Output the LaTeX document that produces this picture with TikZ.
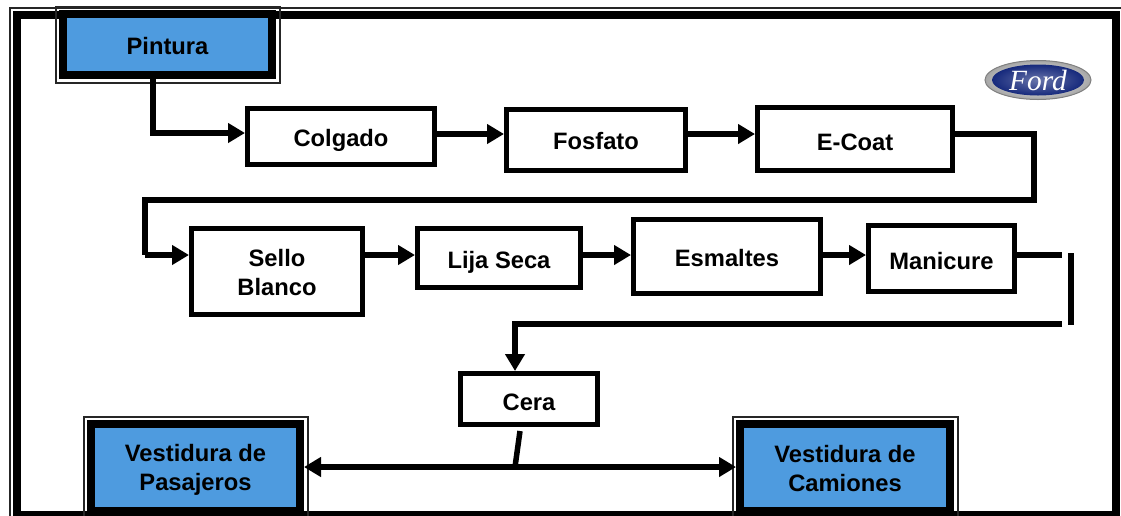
\documentclass[tikz,border=0pt]{standalone}
\usepackage{fontspec}
\setmainfont{Liberation Sans}
\newfontfamily\fordfont{Liberation Serif}
\usetikzlibrary{arrows.meta,shapes.geometric}
\def\px{0.75pt}
\tikzset{
  caja/.style={draw=black,fill=white,line width=5.5*\px,outer sep=0pt,inner sep=0pt,align=center,
    font=\fontsize{17.8}{21.75}\selectfont\bfseries},
  cajaazul/.style={caja,fill=azul,line width=8*\px},
  baja/.style={text height=#1*\px,text depth=0pt},
  delgada/.style={draw=black!85,line width=2*\px},
  linea/.style={draw=black,line width=5.5*\px},
  flecha/.style={linea,shorten >=2.5*\px,-{Triangle[length=17*\px,width=19*\px]}},
  dobleflecha/.style={linea,shorten <=4*\px,shorten >=4*\px,{Triangle[length=17*\px,width=19*\px]}-{Triangle[length=17*\px,width=19*\px]}}
}
\definecolor{azul}{HTML}{4E9BDF}
\definecolor{fordazul}{HTML}{16297C}
\begin{document}
\begin{tikzpicture}[x=0.75pt,y=-0.75pt]
\useasboundingbox (0,0) rectangle (1121,515);
\path[delgada] (9.5,7.5) rectangle (1130,525);
\path[draw,line width=8*\px] (16.5,14.5) rectangle (1116,514.5);
\node[cajaazul,baja=19.2,minimum width=209*\px,minimum height=61*\px](pintura) at (167.5,44.5){Pintura};
\node[caja,baja=20.4,minimum width=187*\px,minimum height=56*\px](colgado) at (341,136.5){Colgado};
\node[caja,baja=19.2,minimum width=179*\px,minimum height=61*\px](fosfato) at (596,140){Fosfato};
\node[caja,baja=22.8,minimum width=195*\px,minimum height=63*\px](ecoat) at (855,139){E-Coat};
\node[caja,minimum width=171*\px,minimum height=86*\px](sello) at (277,271.5){\rule{0pt}{14.5pt}Sello\\Blanco};
\node[caja,baja=20.4,minimum width=163*\px,minimum height=59*\px](lija) at (499,258){Lija Seca};
\node[caja,baja=19.2,minimum width=187*\px,minimum height=74*\px](esmaltes) at (727,256.5){Esmaltes};
\node[caja,baja=21.2,minimum width=146*\px,minimum height=66*\px](manicure) at (941.5,258.5){Manicure};
\node[caja,baja=23.2,minimum width=137*\px,minimum height=51*\px](cera) at (529,399){Cera};
\node[cajaazul,minimum width=209*\px,minimum height=87*\px](pasajeros) at (195.5,467.5){\rule{0pt}{16.75pt}Vestidura de\\Pasajeros};
\node[cajaazul,minimum width=210*\px,minimum height=87*\px](camiones) at (845,467.5){\rule{0pt}{14.5pt}Vestidura de\\Camiones};
\foreach \c in {pintura,pasajeros,camiones}
  \path[delgada] ([shift={(-7.5,7.5)}]\c.south west) rectangle ([shift={(7.5,-7.5)}]\c.north east);
\node[ellipse,draw=black!50,line width=1*\px,inner color=white,outer color=black!35,
  minimum width=106*\px,minimum height=39*\px,inner sep=0pt](logoborde) at (1038,80){};
\node[ellipse,inner color=fordazul!65!white,outer color=fordazul,
  minimum width=92*\px,minimum height=31*\px,inner sep=0pt,text=white,
  font=\fontsize{22}{22}\fordfont\itshape](logo) at (logoborde){Ford};
\coordinate (c1) at (153,133);
\coordinate (c2) at (1034,134);
\coordinate (c3) at (1034,200);
\coordinate (c4) at (145,200);
\coordinate (c5) at (145,255);
\coordinate (c6) at (1062,255);
\coordinate (c7) at (1071,253);
\coordinate (c8) at (1071,325);
\coordinate (c9) at (1062,324);
\coordinate (c10) at (515,324);
\coordinate (c11) at (520,431);
\coordinate (c12) at (515,467);
\path[flecha] (pintura.south -| c1)--(c1)--(colgado.west |- c1);
\path[flecha] (colgado.east |- c2)--(fosfato.west |- c2);
\path[flecha] (fosfato.east |- c2)--(ecoat.west |- c2);
\path[linea] (ecoat.east |- c2)--(c2)--(c3)--(c4)--(c5);
\path[flecha] (c5)--(sello.west |- c5);
\path[flecha] (sello.east |- c5)--(lija.west |- c5);
\path[flecha] (lija.east |- c5)--(esmaltes.west |- c5);
\path[flecha] (esmaltes.east |- c5)--(manicure.west |- c5);
\path[linea] (manicure.east |- c5)--(c6);
\path[linea] (c7)--(c8);
\path[flecha] (c9)--(c10)--(cera.north -| c10);
\path[linea] (c11)--(c12);
\path[dobleflecha] (pasajeros.east |- c12)--(camiones.west |- c12);
\end{tikzpicture}
\end{document}
